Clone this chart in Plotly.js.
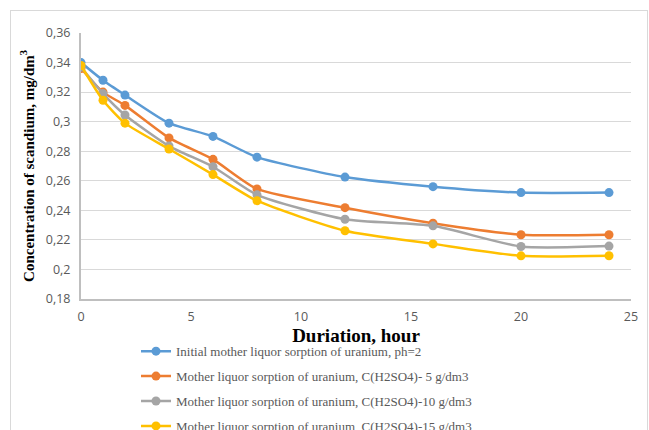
<!DOCTYPE html>
<html><head><meta charset="utf-8">
<script src="https://cdn.plot.ly/plotly-3.0.1.min.js"></script>
<style>
html,body{margin:0;padding:0;background:#fff;}
#frame{position:absolute;left:10px;top:10px;width:636px;height:440px;border:1px solid #d9d9d9;}
#chart{position:absolute;left:0;top:0;width:649px;height:430px;}
</style></head>
<body><div id="frame"></div><div id="chart"></div>
<script>
const hours = [0, 1, 2, 4, 6, 8, 12, 16, 20, 24];
const initialPh2 = [0.340, 0.328, 0.318, 0.299, 0.290, 0.276, 0.2625, 0.256, 0.252, 0.252];
const h2so4_5 = [0.336, 0.320, 0.311, 0.289, 0.2745, 0.2545, 0.2418, 0.2313, 0.2235, 0.2235];
const h2so4_10 = [0.337, 0.319, 0.3045, 0.2835, 0.2695, 0.2505, 0.234, 0.2295, 0.2155, 0.2158];
const h2so4_15 = [0.338, 0.3145, 0.299, 0.2815, 0.2642, 0.2465, 0.2262, 0.2173, 0.2092, 0.2093];
const seriesNames = [
  "Initial mother liquor sorption of uranium, ph=2",
  "Mother liquor sorption of uranium, C(H2SO4)- 5 g/dm3",
  "Mother liquor sorption of uranium, C(H2SO4)-10 g/dm3",
  "Mother liquor sorption of uranium, C(H2SO4)-15 g/dm3"
];
const colors = ["#5B9BD5", "#ED7D31", "#A5A5A5", "#FFC000"];
const allY = [initialPh2, h2so4_5, h2so4_10, h2so4_15];

const traces = allY.map((ys, i) => ({
  x: hours, y: ys, name: seriesNames[i], type: "scatter", mode: "lines+markers",
  legendgroup: "g" + i,
  line: {color: colors[i], width: 2.5, shape: "spline", smoothing: 0.6},
  marker: {color: colors[i], size: 9}
}));

const tickFont = {family: "Liberation Sans Narrow, Open Sans, sans-serif", size: 12.5, color: "#595959"};
const layout = {
  width: 649, height: 430,
  margin: {l: 81, r: 18, t: 33, b: 131, autoexpand: false},
  paper_bgcolor: "rgba(0,0,0,0)", plot_bgcolor: "#fff",
  separators: ",.",
  showlegend: true,
  xaxis: {
    range: [0, 25], dtick: 5, tick0: 0, showgrid: false, zeroline: false,
    showline: true, linecolor: "#bfbfbf", linewidth: 2, ticks: "",
    tickfont: tickFont, ticklabelstandoff: 5,
    title: {text: "<b>Duriation, hour</b>", font: {family: "Liberation Serif, Times New Roman, serif", size: 19, color: "#000"}, standoff: 1}
  },
  yaxis: {
    range: [0.18, 0.36], dtick: 0.02, tick0: 0.18, showgrid: true, gridcolor: "#d9d9d9", gridwidth: 1,
    zeroline: false, showline: true, linecolor: "#bfbfbf", linewidth: 2, ticks: "",
    tickfont: tickFont, ticklabelstandoff: 6,
    title: {text: "<b>Concentration of scandium, mg/dm<sup>3</sup></b>", font: {family: "Liberation Serif, Times New Roman, serif", size: 15, color: "#000"}, standoff: 8}
  },
  legend: {
    orientation: "v", x: 0.1, xanchor: "left", y: -0.14, yanchor: "top",
    font: {family: "Liberation Serif, Times New Roman, serif", size: 13, color: "#595959"},
    tracegroupgap: 5, bgcolor: "rgba(0,0,0,0)", itemwidth: 30
  }
};
Plotly.newPlot("chart", traces, layout, {displayModeBar: false, staticPlot: true});
</script></body></html>
